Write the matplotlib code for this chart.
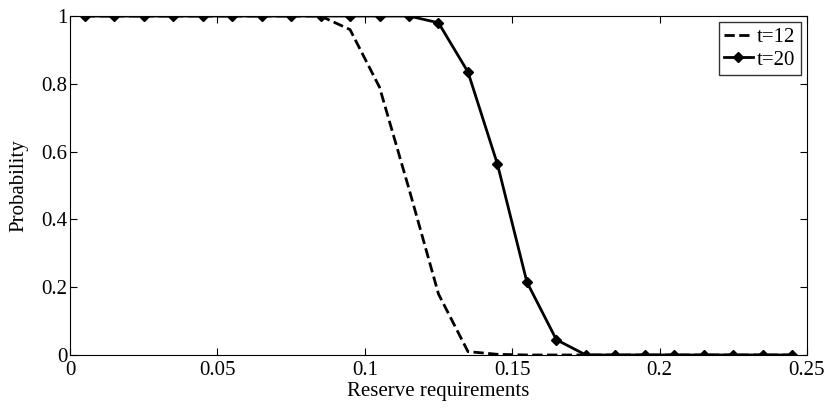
import numpy as np
import matplotlib.pyplot as plt

plt.rcParams['font.family'] = ['Liberation Serif', 'DejaVu Serif']
plt.rcParams['mathtext.fontset'] = 'stix'

# reserve requirement grid (bin centres)
reserve = [0.005, 0.015, 0.025, 0.035, 0.045, 0.055, 0.065, 0.075, 0.085, 0.095,
           0.105, 0.115, 0.125, 0.135, 0.145, 0.155, 0.165, 0.175, 0.185, 0.195,
           0.205, 0.215, 0.225, 0.235, 0.245]

prob_t12 = [1, 1, 1, 1, 1, 1, 1, 1, 1, 0.96,
            0.79, 0.49, 0.18, 0.01, 0.002, 0, 0, 0, 0, 0,
            0, 0, 0, 0, 0]

prob_t20 = [1, 1, 1, 1, 1, 1, 1, 1, 1, 1,
            1, 1, 0.98, 0.835, 0.563, 0.215, 0.045, 0, 0, 0,
            0, 0, 0, 0, 0]

fig = plt.figure(figsize=(8.31, 4.15), dpi=100)
ax = fig.add_axes([0.0842, 0.1446, 0.8869, 0.8168])

ax.plot(reserve, prob_t12, 'k--', lw=2, label='t=12')
ax.plot(reserve, prob_t20, 'k-', lw=2, marker='D', ms=5.5, label='t=20')

ax.set_xlim(0, 0.25)
ax.set_ylim(0, 1)
ax.set_xticks([0, 0.05, 0.1, 0.15, 0.2, 0.25])
ax.set_xticklabels(['0', '0.05', '0.1', '0.15', '0.2', '0.25'])
ax.set_yticks([0, 0.2, 0.4, 0.6, 0.8, 1])
ax.set_yticklabels(['0', '0.2', '0.4', '0.6', '0.8', '1'])
ax.tick_params(direction='in', top=True, right=True, labelsize=15, length=5)
ax.tick_params(axis='x', pad=4)
ax.tick_params(axis='y', pad=2)
ax.set_xlabel('Reserve requirements', fontsize=15, labelpad=2)
ax.set_ylabel('Probability', fontsize=15, labelpad=9)

leg = ax.legend(loc='upper right', fontsize=15, fancybox=False, handlelength=1.4,
                handletextpad=0.2, borderpad=0.25, labelspacing=0.15,
                borderaxespad=0.3)
leg.get_frame().set_edgecolor('black')
leg.get_frame().set_linewidth(1)

fig.savefig('out.png', dpi=100)
